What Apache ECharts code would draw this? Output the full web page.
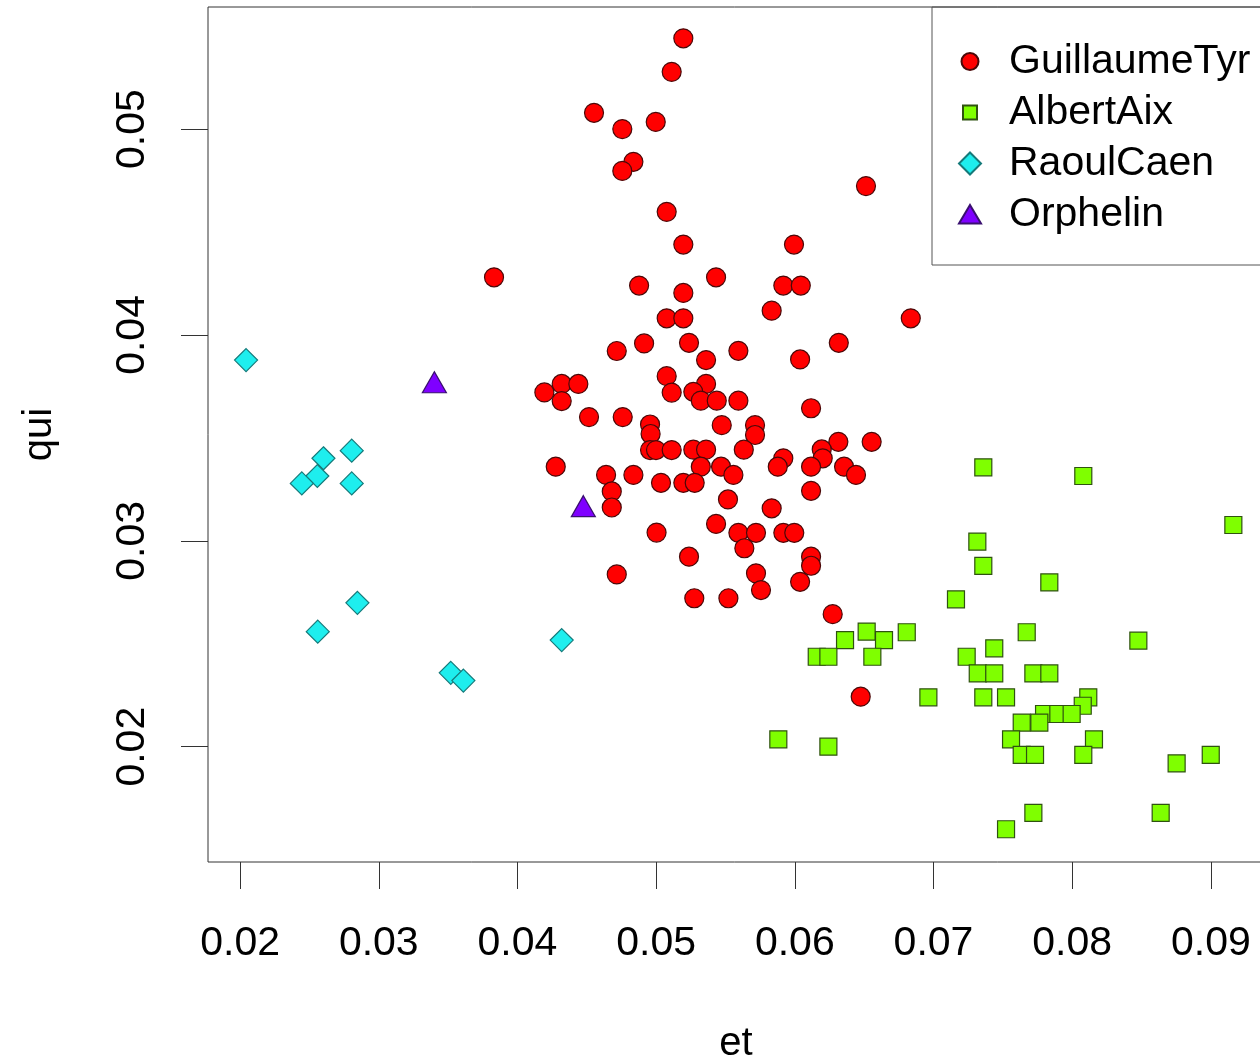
<!DOCTYPE html>
<html>
<head>
<meta charset="utf-8">
<script src="https://cdn.jsdelivr.net/npm/echarts@6/dist/echarts.min.js"></script>
<style>
html,body{margin:0;padding:0;background:#fff;}
#chart{width:1260px;height:1059px;}
</style>
</head>
<body>
<div id="chart"></div>
<script>
// ---- data (et, qui) ----
const guillaumeTyr = [
[0.05196,0.05441],[0.05112,0.05278],[0.04552,0.05079],[0.04756,0.05000],[0.04997,0.05035],
[0.04836,0.04841],[0.04756,0.04797],[0.06513,0.04723],[0.05076,0.04598],[0.05196,0.04439],
[0.05994,0.04439],[0.03831,0.04280],[0.05432,0.04280],[0.04877,0.04240],[0.05917,0.04240],
[0.06043,0.04240],[0.05196,0.04204],[0.05833,0.04118],[0.05076,0.04081],[0.05196,0.04081],
[0.06836,0.04081],[0.04913,0.03959],[0.05237,0.03962],[0.06317,0.03962],[0.04716,0.03922],
[0.05593,0.03923],[0.05360,0.03878],[0.06038,0.03881],[0.05076,0.03800],[0.04194,0.03721],
[0.04319,0.03762],[0.04439,0.03762],[0.04319,0.03679],[0.05112,0.03720],[0.05360,0.03762],
[0.05268,0.03724],[0.05322,0.03681],[0.05437,0.03681],[0.05593,0.03681],[0.06117,0.03644],
[0.04516,0.03601],[0.04759,0.03601],[0.04956,0.03565],[0.04960,0.03519],[0.05473,0.03562],
[0.05713,0.03562],[0.05713,0.03514],[0.04956,0.03441],[0.04999,0.03441],[0.05112,0.03441],
[0.05268,0.03443],[0.05360,0.03443],[0.05632,0.03443],[0.06314,0.03481],[0.06554,0.03481],
[0.06194,0.03444],[0.06201,0.03401],[0.05917,0.03401],[0.05877,0.03360],[0.06117,0.03360],
[0.06355,0.03360],[0.06441,0.03320],[0.05322,0.03360],[0.05468,0.03360],[0.05557,0.03320],
[0.04276,0.03360],[0.04639,0.03320],[0.04836,0.03320],[0.05035,0.03282],[0.05196,0.03282],
[0.05278,0.03282],[0.06117,0.03243],[0.04680,0.03240],[0.04680,0.03162],[0.05518,0.03201],
[0.05833,0.03158],[0.05003,0.03040],[0.05432,0.03082],[0.05593,0.03039],[0.05720,0.03039],
[0.05917,0.03039],[0.05996,0.03039],[0.05636,0.02964],[0.05237,0.02923],[0.06117,0.02923],
[0.06117,0.02879],[0.05720,0.02842],[0.04716,0.02837],[0.06038,0.02801],[0.05756,0.02761],
[0.05275,0.02721],[0.05521,0.02721],[0.06273,0.02644],[0.06475,0.02243]
];
const albertAix = [
[0.07359,0.03357],[0.08080,0.03315],[0.09162,0.03077],[0.07316,0.02996],[0.07359,0.02878],
[0.07835,0.02798],[0.07162,0.02716],[0.06807,0.02556],[0.07672,0.02556],[0.08477,0.02515],
[0.07438,0.02478],[0.07239,0.02437],[0.07319,0.02356],[0.07438,0.02356],[0.07720,0.02356],
[0.07835,0.02356],[0.06963,0.02240],[0.07359,0.02240],[0.07523,0.02240],[0.08116,0.02240],
[0.08076,0.02199],[0.07797,0.02159],[0.07900,0.02159],[0.07996,0.02159],[0.07636,0.02117],
[0.07763,0.02117],[0.07559,0.02036],[0.08157,0.02036],[0.07636,0.01960],[0.07732,0.01960],
[0.08080,0.01960],[0.08753,0.01919],[0.08999,0.01960],[0.07720,0.01679],[0.08638,0.01679],
[0.07523,0.01599],[0.06362,0.02518],[0.06518,0.02559],[0.06643,0.02518],[0.06158,0.02437],
[0.06242,0.02437],[0.06559,0.02437],[0.05881,0.02036],[0.06242,0.02000]
];
const raoulCaen = [
[0.02043,0.03878],[0.02805,0.03438],[0.02601,0.03401],[0.02557,0.03315],[0.02445,0.03279],
[0.02805,0.03279],[0.02846,0.02699],[0.02560,0.02559],[0.03519,0.02359],[0.03610,0.02321],
[0.04319,0.02518]
];
const orphelin = [[0.03401,0.03756],[0.04475,0.03154]];

const xTicks = [0.02,0.03,0.04,0.05,0.06,0.07,0.08,0.09];
const yTicks = [0.02,0.03,0.04,0.05];
const seriesNames = ['GuillaumeTyr','AlbertAix','RaoulCaen','Orphelin'];

const FONT = '"Liberation Sans", Arial, sans-serif';
const chart = echarts.init(document.getElementById('chart'), null, {renderer:'canvas'});

const legendIcons = {
  GuillaumeTyr: 'path://M0,0M22,22M2.5,11A8.5,8.5,0,1,1,19.5,11A8.5,8.5,0,1,1,2.5,11Z',
  AlbertAix: 'path://M0,0M22,22M4,4L18,4L18,18L4,18Z',
  RaoulCaen: 'path://M11,0L22,11L11,22L0,11Z',
  Orphelin: 'path://M0,0M22,22M11,1L22.5,20.5L-0.5,20.5Z'
};

chart.setOption({
  animation: false,
  backgroundColor: '#ffffff',
  grid: {
    left: 208, top: 7, right: -4, bottom: 197,
    show: true, borderColor: '#333', borderWidth: 1,
    containLabel: false, outerBoundsMode: 'none'
  },
  legend: {
    orient: 'vertical', left: 932, top: 7,
    padding: [34, 40, 30, 26],
    itemWidth: 22, itemHeight: 22, itemGap: 10,
    borderColor: '#555', borderWidth: 1,
    textStyle: {fontFamily: FONT, fontSize: 41, lineHeight: 40, color: '#000', padding: [0,0,0,23]},
    data: seriesNames.map(n => ({name: n, icon: legendIcons[n]}))
  },
  xAxis: {
    type: 'value', min: 0.017686, max: 0.09383,
    name: 'et', nameLocation: 'middle', nameGap: 162,
    nameTextStyle: {fontFamily: FONT, fontSize: 40, lineHeight: 40, color: '#000'},
    splitLine: {show: false},
    axisLine: {show: false},
    axisTick: {show: true, length: 27, customValues: xTicks, lineStyle: {color: '#333', width: 1}},
    axisLabel: {customValues: xTicks, margin: 62, fontFamily: FONT, fontSize: 41, lineHeight: 40, color: '#000',
      formatter: v => v.toFixed(2)}
  },
  yAxis: {
    type: 'value', min: 0.0144, max: 0.05593,
    name: 'qui', nameLocation: 'middle', nameGap: 148,
    nameTextStyle: {fontFamily: FONT, fontSize: 40, lineHeight: 40, color: '#000'},
    splitLine: {show: false},
    axisLine: {show: false},
    axisTick: {show: true, length: 27, customValues: yTicks, lineStyle: {color: '#333', width: 1}},
    axisLabel: {customValues: yTicks, rotate: 90, margin: 55, fontFamily: FONT, fontSize: 41, lineHeight: 40, color: '#000',
      formatter: v => v.toFixed(2)}
  },
  series: [
    {name: 'GuillaumeTyr', type: 'scatter', data: guillaumeTyr, symbol: 'circle', symbolSize: 19,
      itemStyle: {color: '#FF0000', borderColor: '#4a0808', borderWidth: 1.2, opacity: 1}},
    {name: 'AlbertAix', type: 'scatter', data: albertAix, symbol: 'rect', symbolSize: 17,
      itemStyle: {color: '#7FFF00', borderColor: '#2f5210', borderWidth: 1.2, opacity: 1}},
    {name: 'RaoulCaen', type: 'scatter', data: raoulCaen, symbol: 'diamond', symbolSize: 23,
      itemStyle: {color: '#1EEEEE', borderColor: '#157a7a', borderWidth: 1.2, opacity: 1}},
    {name: 'Orphelin', type: 'scatter', data: orphelin, symbol: 'triangle', symbolSize: [24, 21], symbolOffset: [0, -3],
      itemStyle: {color: '#7F00FF', borderColor: '#3a1070', borderWidth: 1.2, opacity: 1}}
  ]
});
</script>
</body>
</html>
